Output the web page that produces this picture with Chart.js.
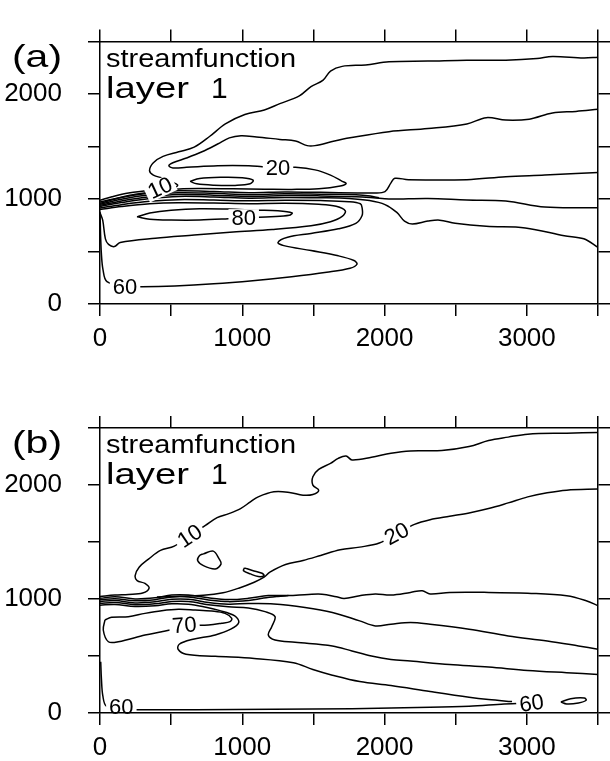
<!DOCTYPE html>
<html><head><meta charset="utf-8">
<script src="https://cdn.jsdelivr.net/npm/chart.js@4"></script>
<style>
html,body{margin:0;padding:0;background:#fff;}
#wrap{position:relative;width:610px;height:761px;}
canvas{position:absolute;left:0;}
</style>
</head><body>
<div id="wrap">
<canvas id="ca" width="610" height="380" style="top:0px"></canvas>
<canvas id="cb" width="610" height="381" style="top:380px"></canvas>
</div>
<script>
// ---------- axes ----------
const xTickValues = [0, 1000, 2000, 3000];
const xTickLabels = ['0', '1000', '2000', '3000'];
const yTickValues = [0, 1000, 2000];
const yTickLabels = ['0', '1000', '2000'];
const xRange = [0, 3500];
const yRange = [0, 2500];

// ---------- panel (a) contours (x, y) ----------
const aC10 = [[3500,2352],[3399,2344],[3180,2358],[3071,2338],[2852,2323],[2578,2323],[2305,2314],[2031,2308],[1867,2278],[1702,2264],[1620,2219],[1566,2130],[1483,2071],[1401,1983],[1264,1909],[1155,1849],[1018,1805],[881,1716],[772,1598],[662,1494],[553,1450],[443,1406],[375,1346],[348,1272],[375,1228],[443,1198],[500,1165],[545,1135],[530,1112],[470,1100],[400,1090],[330,1078],[200,1058],[84,1022],[0,988]];
const aC20 = [[3500,1855],[3345,1835],[3180,1820],[3016,1761],[2852,1752],[2715,1775],[2578,1716],[2305,1672],[2031,1642],[1757,1583],[1648,1553],[1511,1509],[1456,1509],[1374,1553],[1264,1568],[1100,1592],[991,1604],[909,1583],[827,1524],[717,1450],[608,1391],[512,1346],[484,1317],[512,1296],[608,1302],[827,1317],[1046,1317],[1141,1308],[1251,1300],[1374,1302],[1511,1278],[1620,1228],[1702,1169],[1730,1148],[1689,1124],[1538,1098],[1347,1092],[1155,1094],[936,1097],[700,1100],[560,1096],[400,1075],[250,1045],[120,1008],[0,972]];
const aCell = [[633,1168],[700,1196],[850,1208],[1000,1204],[1076,1180],[1055,1145],[950,1130],[800,1132],[680,1145],[633,1168]];
const aB1 = [[0,960],[150,1015],[350,1058],[550,1078],[800,1072],[1050,1060],[1300,1068],[1550,1064],[1812,1058],[1921,1058],[2003,1071],[2045,1154],[2072,1198],[2168,1184],[2578,1184],[2852,1213],[3126,1228],[3345,1243],[3500,1252]];
const aB2 = [[0,950],[150,998],[350,1040],[550,1060],[800,1054],[1050,1042],[1300,1050],[1550,1046],[1800,1040],[1900,1028],[1960,1012]];
const aB3 = [[0,940],[150,982],[350,1022],[550,1043],[800,1037],[1050,1025],[1300,1033],[1550,1030],[1800,1022],[1921,1012],[2031,1000],[2305,1006],[2578,991],[2852,982],[3126,923],[3500,917]];
const aB4 = [[0,930],[150,966],[350,1004],[550,1025],[800,1020],[1050,1008],[1300,1015],[1550,1012],[1750,1005],[1894,985],[2003,947],[2086,873],[2140,790],[2195,763],[2305,790],[2387,799],[2496,769],[2715,740],[2989,725],[3263,651],[3400,621],[3500,539]];
const aC60 = [[0,915],[150,946],[350,978],[550,994],[800,990],[1050,983],[1300,988],[1550,985],[1750,975],[1830,955],[1842,917],[1842,843],[1798,769],[1675,716],[1483,672],[1319,636],[1251,586],[1292,556],[1483,509],[1675,459],[1785,414],[1806,379],[1757,340],[1593,302],[1347,260],[1073,222],[799,192],[526,172],[295,165],[180,170],[49,213],[21,328],[10,473],[5,621],[2,769],[0,880]];
const aC70 = [[0,900],[150,928],[350,955],[550,965],[800,962],[1050,956],[1300,960],[1538,950],[1660,932],[1724,888],[1702,834],[1620,784],[1483,746],[1210,710],[936,686],[662,657],[389,627],[142,586],[101,547],[60,568],[38,621],[19,799],[0,870]];
const aC80 = [[260,830],[350,866],[500,893],[700,908],[900,904],[1100,894],[1250,888],[1350,868],[1330,845],[1200,832],[1050,824],[900,812],[700,800],[500,800],[350,808],[260,830]];
const aLabels = [
  {t:'10', x:422, y:1105, a:-25},
  {t:'20', x:1251, y:1300, a:0},
  {t:'80', x:1010, y:818, a:0},
  {t:'60', x:176, y:164, a:0}
];

// ---------- panel (b) contours (x, y) ----------
const bC10 = [[3500,2461],[3280,2455],[3006,2446],[2869,2420],[2731,2390],[2594,2337],[2402,2302],[2182,2299],[2045,2279],[1908,2243],[1771,2220],[1729,2255],[1674,2234],[1620,2190],[1537,2137],[1496,2073],[1496,1999],[1537,1955],[1496,1917],[1427,1911],[1331,1935],[1222,1940],[1112,1896],[1057,1852],[988,1793],[906,1749],[823,1714],[741,1646],[631,1555],[522,1464],[425,1426],[343,1352],[275,1279],[247,1205],[261,1161],[316,1137],[345,1095],[300,1052],[200,1040],[105,1035],[0,1022]];
const bC20 = [[3500,1964],[3280,1955],[3143,1932],[3006,1896],[2869,1843],[2731,1793],[2594,1755],[2457,1726],[2320,1696],[2210,1655],[2086,1573],[1963,1491],[1825,1455],[1688,1432],[1551,1382],[1427,1338],[1304,1302],[1194,1235],[1153,1191],[1084,1147],[975,1095],[865,1055],[727,1032],[535,1022],[400,1018]];
const bBlob1 = [[727,1396],[796,1420],[837,1352],[851,1308],[810,1264],[727,1293],[686,1337],[700,1381],[727,1396]];
const bBlob2 = [[1016,1273],[1071,1250],[1139,1226],[1153,1205],[1112,1197],[1057,1220],[1008,1249],[1016,1273]];
const bL1 = [[0,1006],[105,1020],[246,1000],[387,1010],[504,1035],[621,1035],[762,1010],[902,995],[1043,1006],[1183,1030],[1324,1030],[1465,1040],[1560,1042],[1661,1020],[1716,1005],[1825,1029],[1935,1044],[2045,1035],[2182,1058],[2265,1073],[2320,1044],[2457,1058],[2731,1058],[3006,1050],[3280,1029],[3417,985],[3500,941]];
const bL2 = [[0,993],[105,1003],[246,984],[387,994],[504,1018],[621,1018],[762,992],[902,977],[1043,987],[1150,1008],[1250,1022],[1324,1030]];
const bL3 = [[0,978],[105,986],[246,966],[387,975],[504,998],[621,998],[762,970],[902,955],[1043,960],[1222,957],[1441,926],[1633,882],[1825,808],[1935,764],[2045,779],[2182,794],[2320,779],[2594,735],[2869,676],[3143,632],[3363,588],[3500,559]];
const bL4 = [[0,962],[105,970],[246,950],[387,958],[504,978],[621,978],[762,950],[902,932],[1043,922],[1160,889],[1230,845],[1207,757],[1183,684],[1230,640],[1371,620],[1633,588],[1771,544],[1908,500],[2045,470],[2182,456],[2457,426],[2731,403],[3006,373],[3280,353],[3500,338]];
const bL5 = [[0,946],[105,952],[246,934],[387,940],[504,958],[621,955],[720,935],[837,900],[947,852],[975,794],[919,735],[810,685],[645,644],[557,603],[549,559],[604,515],[810,497],[1084,479],[1359,441],[1496,382],[1633,332],[1825,276],[2045,241],[2320,188],[2594,138],[2731,118],[2896,100]];
const bC70 = [[35,816],[23,728],[59,625],[129,625],[316,684],[434,713],[492,728],[593,765],[762,772],[855,787],[914,801],[926,830],[879,874],[785,894],[668,903],[551,909],[434,897],[316,874],[199,845],[82,839],[35,816]];
const bC60 = [[5,450],[10,300],[20,150],[45,60],[151,40],[261,29],[673,29],[1222,32],[1771,38],[2320,50],[2594,60],[2841,78],[3033,88]];
const bEll = [[3239,97],[3308,126],[3404,132],[3417,112],[3363,88],[3280,79],[3239,97]];
const bLabels = [
  {t:'10', x:631, y:1552, a:-34},
  {t:'20', x:2086, y:1573, a:-28},
  {t:'70', x:593, y:770, a:-5},
  {t:'60', x:150, y:55, a:0},
  {t:'60', x:3033, y:85, a:-8}
];

const panelTitle = 'streamfunction';
const panelLayer = ['layer', '1'];

// ---------- drawing ----------
const FONT = '"Liberation Sans", Arial, Helvetica, sans-serif';

const textPlugin = {
  id: 'contourText',
  afterDatasetsDraw(chart, args, opts) {
    const ctx = chart.ctx, xs = chart.scales.x, ys = chart.scales.y;
    ctx.save();
    ctx.font = '22px ' + FONT;
    (opts.labels || []).forEach(l => {
      const px = xs.getPixelForValue(l.x), py = ys.getPixelForValue(l.y);
      ctx.save();
      ctx.translate(px, py);
      ctx.rotate(l.a * Math.PI / 180);
      const w = ctx.measureText(l.t).width;
      ctx.fillStyle = '#fff';
      ctx.fillRect(-w / 2 - 3, -9, w + 6, 18);
      ctx.fillStyle = '#000';
      ctx.textAlign = 'center';
      ctx.textBaseline = 'middle';
      ctx.fillText(l.t, 0, 1);
      ctx.restore();
    });
    const T = chart.chartArea.top, L = chart.chartArea.left;
    ctx.fillStyle = '#000';
    ctx.textAlign = 'left';
    ctx.textBaseline = 'alphabetic';
    // panel letter
    ctx.font = '32px ' + FONT;
    let w = ctx.measureText(opts.letter).width;
    ctx.save(); ctx.translate(12, T + 25); ctx.scale(50 / w, 1); ctx.fillText(opts.letter, 0, 0); ctx.restore();
    // streamfunction
    ctx.font = '26px ' + FONT;
    w = ctx.measureText(panelTitle).width;
    ctx.save(); ctx.translate(L + 6, T + 25); ctx.scale(190 / w, 1); ctx.fillText(panelTitle, 0, 0); ctx.restore();
    // layer 1
    ctx.font = '30px ' + FONT;
    w = ctx.measureText(panelLayer[0]).width;
    ctx.save(); ctx.translate(L + 6, T + 56); ctx.scale(83 / w, 1); ctx.fillText(panelLayer[0], 0, 0); ctx.restore();
    ctx.fillText(panelLayer[1], L + 111, T + 56);
    ctx.restore();
  }
};

function axis(pos, range, vals, labs, size, pad, showLabels) {
  const horiz = (pos === 'top' || pos === 'bottom');
  return {
    type: 'linear', position: pos, min: range[0], max: range[1],
    ticks: {
      display: showLabels, stepSize: 500, autoSkip: false, maxRotation: 0, minRotation: 0,
      padding: pad, color: '#000', font: { family: FONT, size: 26 },
      callback: v => { const i = vals.indexOf(v); return i >= 0 ? labs[i] : ''; }
    },
    grid: { drawOnChartArea: false, drawTicks: true, tickLength: 12, color: '#000', lineWidth: 1.5, z: 1 },
    border: { display: true, color: '#000', width: 1.5, z: 1 },
    afterFit: s => { if (horiz) s.height = size; else s.width = size; }
  };
}

function makePanel(id, lines, labels, letter, topH, bottomH) {
  return new Chart(document.getElementById(id), {
    type: 'scatter',
    data: {
      datasets: lines.map(pts => ({
        data: pts.map(p => ({ x: p[0], y: p[1] })),
        showLine: true, borderColor: '#000', borderWidth: 1.5,
        pointRadius: 0, tension: 0.35, fill: false
      }))
    },
    options: {
      responsive: false, animation: false, events: [],
      layout: { padding: 0 },
      plugins: { legend: { display: false }, tooltip: { enabled: false },
        contourText: { labels: labels, letter: letter } },
      scales: {
        x: axis('bottom', xRange, xTickValues, xTickLabels, bottomH, 7, true),
        x2: axis('top', xRange, xTickValues, xTickLabels, topH, 0, false),
        y: axis('left', yRange, yTickValues, yTickLabels, 100, 26, true),
        y2: axis('right', yRange, yTickValues, yTickLabels, 12, 0, false)
      }
    },
    plugins: [textPlugin]
  });
}

makePanel('ca', [aC10, aC20, aCell, aB1, aB2, aB3, aB4, aC60, aC70, aC80], aLabels, '(a)', 22, 76);
makePanel('cb', [bC10, bC20, bBlob1, bBlob2, bL1, bL2, bL3, bL4, bL5, bC70, bC60, bEll], bLabels, '(b)', 48, 48);
</script>
</body></html>
